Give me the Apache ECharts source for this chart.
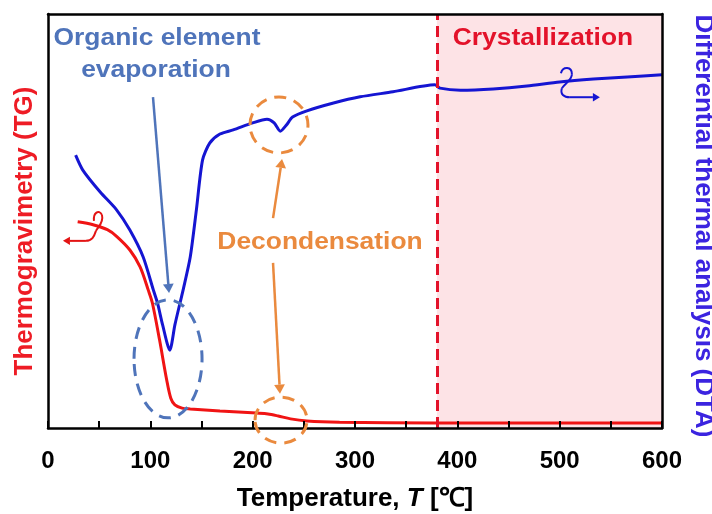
<!DOCTYPE html>
<html><head><meta charset="utf-8">
<script src="https://cdn.jsdelivr.net/npm/echarts@6/dist/echarts.min.js"></script>
<style>html,body{margin:0;padding:0;background:#fff}#c{width:712px;height:514px}</style>
</head><body><div id="c"></div>
<script>
// ---- data ----
const tgTemp   = [29, 44, 58, 67, 80, 90, 98, 102, 109, 116, 120, 124, 131, 139, 168, 204, 215, 225, 237, 253, 285, 378, 600];
const tgValues = [49.8, 49.1, 47.9, 46.3, 43.0, 38.9, 33.3, 30.2, 21.3, 11.6, 7.2, 5.6, 4.8, 4.6, 4.1, 3.6, 3.4, 2.9, 2.2, 1.7, 1.4, 1.2, 1.2];
const dtaTemp   = [27, 34, 51, 67, 80, 93, 103, 107, 112, 119, 124, 129, 132, 139, 145, 151, 158, 168, 181, 200, 214, 221, 227, 233, 239, 253, 279, 305, 337, 378, 383, 403, 435, 468, 500, 533, 566, 600];
const dtaValues = [65.9, 62.3, 57.0, 52.7, 47.8, 41.3, 33.3, 30.2, 24.9, 18.8, 24.9, 30.2, 33.3, 41.3, 52.7, 64.7, 68.8, 71.0, 72.0, 73.7, 74.6, 73.7, 71.7, 73.2, 75.1, 76.6, 78.5, 80.0, 81.2, 82.9, 82.1, 81.6, 81.9, 82.6, 83.6, 84.3, 84.8, 85.3];
const xTickLabels = [0, 100, 200, 300, 400, 500, 600];
const crystallizationRange = [380, 600];

const FONT = 'Arial, "Liberation Sans", sans-serif';
const chart = echarts.init(document.getElementById('c'), null, {renderer: 'canvas'});

const zip = (a, b) => a.map((t, i) => [t, b[i]]);
const frameLine = {show: true, onZero: false, lineStyle: {color: '#000', width: 2.5}};

chart.setOption({
  animation: false,
  backgroundColor: '#fff',
  grid: {left: 48, top: 14, right: 50, bottom: 86, outerBoundsMode: 'none', containLabel: false},
  xAxis: [{
    type: 'value', min: 0, max: 600, interval: 50, z: 10,
    axisLine: frameLine,
    axisTick: {inside: true, length: 7, lineStyle: {color: '#000', width: 2}},
    axisLabel: {
      formatter: v => xTickLabels.includes(v) ? String(v) : '',
      fontSize: 24, fontWeight: 'bold', color: '#000', fontFamily: FONT, margin: 21
    },
    splitLine: {show: false},
    name: '{a|Temperature, }{i|T}{a| [℃]}',
    nameLocation: 'middle', nameGap: 58,
    nameTextStyle: {
      rich: {
        a: {fontSize: 26, fontWeight: 'bold', color: '#000', fontFamily: FONT},
        i: {fontSize: 26, fontWeight: 'bold', fontStyle: 'italic', color: '#000', fontFamily: FONT}
      }
    }
  }, {
    type: 'value', position: 'top', min: 0, max: 600, z: 10,
    axisLine: frameLine,
    axisTick: {show: false}, axisLabel: {show: false}, splitLine: {show: false}
  }],
  yAxis: [{
    type: 'value', min: 0, max: 100, position: 'left', z: 10,
    axisLine: frameLine,
    axisTick: {show: false}, axisLabel: {show: false}, splitLine: {show: false},
    name: 'Thermogravimetry (TG)', nameLocation: 'middle', nameRotate: 90, nameGap: 10,
    nameTextStyle: {color: '#ee1c25', fontSize: 26, fontWeight: 'bold', fontFamily: FONT, padding: [0, 20, 0, 0]}
  }, {
    type: 'value', min: 0, max: 100, position: 'right', z: 10,
    axisLine: frameLine,
    axisTick: {show: false}, axisLabel: {show: false}, splitLine: {show: false},
    name: 'Differential thermal analysis (DTA)', nameLocation: 'middle', nameRotate: -90, nameGap: 28,
    nameTextStyle: {color: '#3b24e0', fontSize: 26, fontWeight: 'bold', fontFamily: FONT, padding: [0, 0, 0, 10]}
  }],
  series: [{
    type: 'line', name: 'region', data: [], z: 1, silent: true,
    markArea: {silent: true, itemStyle: {color: '#fde3e6'}, data: [[{xAxis: crystallizationRange[0]}, {xAxis: crystallizationRange[1]}]]},
    markLine: {silent: true, symbol: 'none', label: {show: false},
      lineStyle: {color: '#e3122a', type: [11, 6], width: 3},
      data: [{xAxis: crystallizationRange[0]}]}
  }, {
    type: 'line', name: 'TG', data: zip(tgTemp, tgValues), yAxisIndex: 0,
    smooth: 0.3, showSymbol: false, z: 4,
    lineStyle: {color: '#f01414', width: 3}
  }, {
    type: 'line', name: 'DTA', data: zip(dtaTemp, dtaValues), yAxisIndex: 1,
    smooth: 0.25, showSymbol: false, z: 4,
    lineStyle: {color: '#1515d2', width: 3}
  }]
});

// ---- annotations anchored to data coordinates ----
const P = (t, v) => chart.convertToPixel({xAxisIndex: 0, yAxisIndex: 0}, [t, v]);
const BLUE_NOTE = '#4f74ba', ORANGE = '#ea8a3e', RED_TXT = '#e3122a';

function arrow(a, b, color, w, head) {
  const dx = b[0] - a[0], dy = b[1] - a[1], L = Math.hypot(dx, dy);
  const ux = dx / L, uy = dy / L, hl = head || 8, hw = (head || 8) * 0.6;
  const base = [b[0] - ux * hl, b[1] - uy * hl];
  return [
    {type: 'line', shape: {x1: a[0], y1: a[1], x2: base[0], y2: base[1]}, style: {stroke: color, lineWidth: w}, z: 20},
    {type: 'polygon', shape: {points: [b, [base[0] - uy * hw, base[1] + ux * hw], [base[0] + uy * hw, base[1] - ux * hw]]}, style: {fill: color}, z: 20}
  ];
}
function ellipse(c, rx, ry, color) {
  const p = P(c[0], c[1]);
  return {type: 'ellipse', shape: {cx: p[0], cy: p[1], rx: rx, ry: ry}, style: {fill: 'none', stroke: color, lineWidth: 3, lineDash: [12, 8]}, z: 20};
}
function label(t, v, text, color) {
  const p = P(t, v);
  return {type: 'text', x: p[0], y: p[1], scaleX: 1.1, z: 21,
    style: {x: 0, y: 0, text: text, fill: color, fontSize: 24, fontWeight: 'bold', fontFamily: FONT, align: 'center', verticalAlign: 'middle'}};
}
function bez(pts, color) {
  return {type: 'bezierCurve', shape: {x1: pts[0][0], y1: pts[0][1], cpx1: pts[1][0], cpy1: pts[1][1], cpx2: pts[2][0], cpy2: pts[2][1], x2: pts[3][0], y2: pts[3][1]},
    style: {stroke: color, lineWidth: 2, fill: 'none'}, z: 20};
}

const g = [];
g.push(label(106.5, 94.2, 'Organic element', BLUE_NOTE));
g.push(label(105.5, 86.3, 'evaporation', BLUE_NOTE));
g.push(label(483.7, 94.2, 'Crystallization', RED_TXT));
g.push(label(265.8, 44.9, 'Decondensation', ORANGE));
g.push(ellipse([117.3, 16.7], 34, 59, BLUE_NOTE));
g.push(ellipse([225.7, 73.2], 29, 28, ORANGE));
g.push(ellipse([227.7, 1.9], 26, 23, ORANGE));
g.push(...arrow(P(102.6, 79.9), P(118.3, 32.6), BLUE_NOTE, 2.5, 9));
g.push(...arrow(P(219.9, 50.7), P(228.7, 65.0), ORANGE, 2.5, 9));
g.push(...arrow(P(219.9, 39.9), P(226.7, 8.3), ORANGE, 2.5, 9));

// DTA axis indicator (loop + arrow to the right)
(function () {
  const o = P(510, 79.9); // base of the arrow line
  const q = (dx, dy) => [o[0] + dx, o[1] + dy];
  const c = '#1515d2';
  g.push(bez([q(-9, -24), q(-7, -31), q(2, -31), q(2, -23)], c));
  g.push(bez([q(2, -23), q(2, -17), q(-5, -14), q(-8, -9)], c));
  g.push(bez([q(-8, -9), q(-10, -3), q(-6, 0), q(0, 0)], c));
  g.push(...arrow(q(0, 0), q(30, 0), c, 2, 7));
})();
// TG axis indicator (loop + arrow to the left)
(function () {
  const o = P(37.1, 45.2);
  const q = (dx, dy) => [o[0] + dx, o[1] + dy];
  const c = '#e31414';
  g.push(bez([q(8, -20), q(7, -28), q(13, -32), q(16, -26)], c));
  g.push(bez([q(16, -26), q(18, -18), q(12, -14), q(10, -10)], c));
  g.push(bez([q(10, -10), q(8, -4), q(6, 0), q(0, 0)], c));
  g.push(...arrow(q(0, 0), q(-23, 0), c, 2, 7));
})();

chart.setOption({graphic: g});
</script>
</body></html>
